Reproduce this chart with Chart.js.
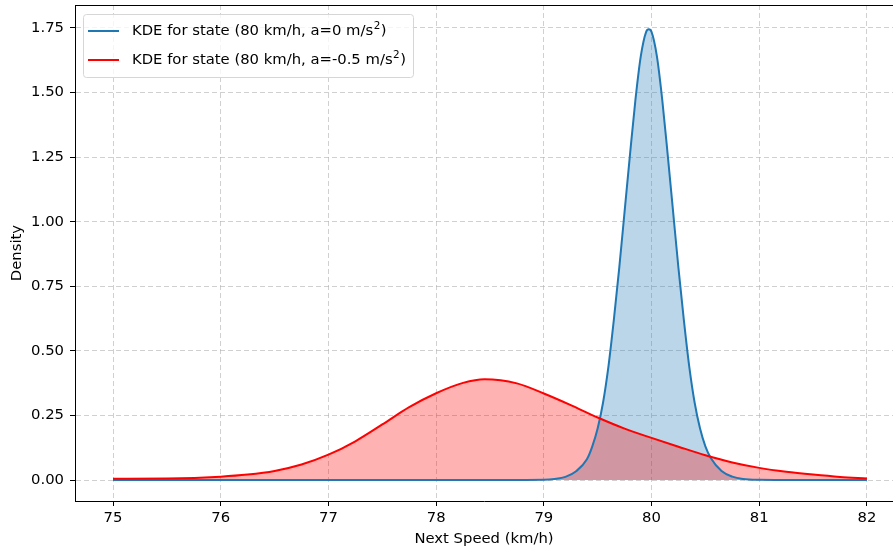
<!DOCTYPE html>
<html lang="en">
<head>
  <meta charset="UTF-8">
  <title>KDE of Next Speed</title>
  <script src="https://cdn.jsdelivr.net/npm/chart.js"></script>
  <style>
    body {
      margin: 0;
      padding: 0;
      background: #fff;
    }
    #wrap {
      width: 893px;
      height: 549px;
    }
  </style>
</head>
<body>

<div id="wrap">
  <canvas id="kdeChart" width="893" height="549"></canvas>
</div>

<script>
  // tick labels
  const xTicks = [75, 76, 77, 78, 79, 80, 81, 82];
  const yTicks = [0, 0.25, 0.5, 0.75, 1.0, 1.25, 1.5, 1.75];

  // series names
  const seriesLabels = [
    'KDE for state (80 km/h, a=0 m/s²)',
    'KDE for state (80 km/h, a=-0.5 m/s²)'
  ];

  // a = 0 : narrow peak around 80
  const blueX = [75, 76, 77, 78, 78.6, 79.0, 79.1, 79.2, 79.3, 79.4, 79.45, 79.5, 79.55, 79.6, 79.65,
                 79.7, 79.75, 79.8, 79.85, 79.9, 79.95, 79.975, 80.0, 80.05, 80.1, 80.15, 80.2, 80.25,
                 80.3, 80.35, 80.4, 80.45, 80.5, 80.55, 80.65, 80.75, 80.85, 81.0, 81.5, 82];
  const blueY = [0, 0, 0, 0, 0, 0.001, 0.004, 0.012, 0.034, 0.08, 0.13, 0.20, 0.30, 0.44, 0.62,
                 0.82, 1.04, 1.26, 1.47, 1.64, 1.735, 1.745, 1.735, 1.64, 1.47, 1.26, 1.04, 0.82,
                 0.62, 0.44, 0.30, 0.20, 0.13, 0.085, 0.035, 0.013, 0.004, 0.001, 0, 0];

  // a = -0.5 : wide skewed bump around 78.4
  const redX = [75, 75.5, 76, 76.25, 76.5, 76.75, 77, 77.25, 77.5, 77.75, 78, 78.25, 78.45,
                78.75, 79, 79.25, 79.5, 79.75, 80, 80.25, 80.5, 80.75, 81, 81.25, 81.5, 81.75, 82];
  const redY = [0.005, 0.006, 0.013, 0.021, 0.035, 0.060, 0.098, 0.150, 0.215, 0.282, 0.336, 0.376, 0.390,
                0.374, 0.335, 0.290, 0.242, 0.199, 0.163, 0.129, 0.096, 0.068, 0.047, 0.032, 0.021, 0.012, 0.006];

  const FONT = "'DejaVu Sans', sans-serif";
  const FSIZE = 14.8;

  function toPoints(xs, ys) {
    return xs.map((x, i) => ({ x: x, y: ys[i] }));
  }

  // top spine + matplotlib style legend
  const framePlugin = {
    id: 'frame',
    afterDraw(chart) {
      const ctx = chart.ctx;
      const a = chart.chartArea;
      ctx.save();
      ctx.strokeStyle = '#000';
      ctx.lineWidth = 1;
      ctx.beginPath();
      ctx.moveTo(a.left, a.top + 0.5);
      ctx.lineTo(a.right, a.top + 0.5);
      ctx.stroke();

      // legend box
      const bx = 83, by = 14, bw = 330, bh = 63;
      ctx.beginPath();
      ctx.roundRect(bx + 0.5, by + 0.5, bw, bh, 3);
      ctx.fillStyle = 'rgba(255,255,255,0.8)';
      ctx.fill();
      ctx.strokeStyle = '#d6d6d6';
      ctx.stroke();

      chart.data.datasets.forEach((ds, i) => {
        const y = 31 + i * 29;
        ctx.strokeStyle = ds.borderColor;
        ctx.lineWidth = 2;
        ctx.beginPath();
        ctx.moveTo(88, y);
        ctx.lineTo(119, y);
        ctx.stroke();

        // text with superscript 2
        const parts = ds.label.split('²');
        let x = 132;
        ctx.fillStyle = '#000';
        ctx.textBaseline = 'middle';
        ctx.textAlign = 'left';
        ctx.font = FSIZE + 'px ' + FONT;
        ctx.fillText(parts[0], x, y);
        x += ctx.measureText(parts[0]).width;
        if (parts.length > 1) {
          ctx.font = '10.4px ' + FONT;
          ctx.fillText('2', x + 0.5, y - 5);
          x += ctx.measureText('2').width + 1;
          ctx.font = FSIZE + 'px ' + FONT;
          ctx.fillText(parts[1], x, y);
        }
      });
      ctx.restore();
    }
  };

  document.addEventListener('DOMContentLoaded', function () {
    const ctx = document.getElementById('kdeChart').getContext('2d');

    const config = {
      type: 'line',
      data: {
        datasets: [{
          label: seriesLabels[0],
          data: toPoints(blueX, blueY),
          borderColor: '#1f77b4',
          backgroundColor: 'rgba(31, 119, 180, 0.3)',
          borderWidth: 2,
          pointRadius: 0,
          fill: 'origin',
          cubicInterpolationMode: 'monotone',
          order: 1
        }, {
          label: seriesLabels[1],
          data: toPoints(redX, redY),
          borderColor: '#ff0000',
          backgroundColor: 'rgba(255, 0, 0, 0.3)',
          borderWidth: 2,
          pointRadius: 0,
          fill: 'origin',
          cubicInterpolationMode: 'monotone',
          order: 0
        }]
      },
      options: {
        responsive: false,
        animation: false,
        layout: {
          padding: { top: 5, right: 0, left: 0, bottom: 0 }
        },
        scales: {
          x: {
            type: 'linear',
            min: 74.647,
            max: 82.242,
            afterBuildTicks: axis => { axis.ticks = xTicks.map(v => ({ value: v })); },
            afterFit: scale => {
              scale.height = 48;
              scale.paddingLeft = 0;
              scale.paddingRight = 0;
            },
            ticks: {
              color: '#000',
              padding: 3,
              maxRotation: 0,
              font: { family: FONT, size: FSIZE },
              callback: v => String(v)
            },
            grid: {
              color: 'rgba(176, 176, 176, 0.6)',
              lineWidth: 1,
              tickLength: 5,
              tickColor: '#000',
              tickWidth: 1
            },
            border: { display: true, color: '#000', width: 1, dash: [5, 3] },
            title: {
              display: true,
              text: 'Next Speed (km/h)',
              color: '#000',
              font: { family: FONT, size: FSIZE },
              padding: { top: 0, bottom: 1 }
            }
          },
          y: {
            type: 'linear',
            min: -0.0813,
            max: 1.839,
            afterBuildTicks: axis => { axis.ticks = yTicks.map(v => ({ value: v })); },
            afterFit: scale => {
              scale.width = 75;
              scale.paddingTop = 0;
              scale.paddingBottom = 0;
            },
            ticks: {
              color: '#000',
              padding: 6,
              font: { family: FONT, size: FSIZE },
              callback: v => v.toFixed(2)
            },
            grid: {
              color: 'rgba(176, 176, 176, 0.6)',
              lineWidth: 1,
              tickLength: 5,
              tickColor: '#000',
              tickWidth: 1
            },
            border: { display: true, color: '#000', width: 1, dash: [5, 3] },
            title: {
              display: true,
              text: 'Density',
              color: '#000',
              font: { family: FONT, size: FSIZE },
              padding: { top: 8, bottom: 0 }
            }
          }
        },
        plugins: {
          legend: { display: false },
          tooltip: { enabled: false },
          filler: { drawTime: 'beforeDatasetsDraw' }
        }
      },
      plugins: [framePlugin]
    };

    new Chart(ctx, config);
  });
</script>

</body>
</html>
